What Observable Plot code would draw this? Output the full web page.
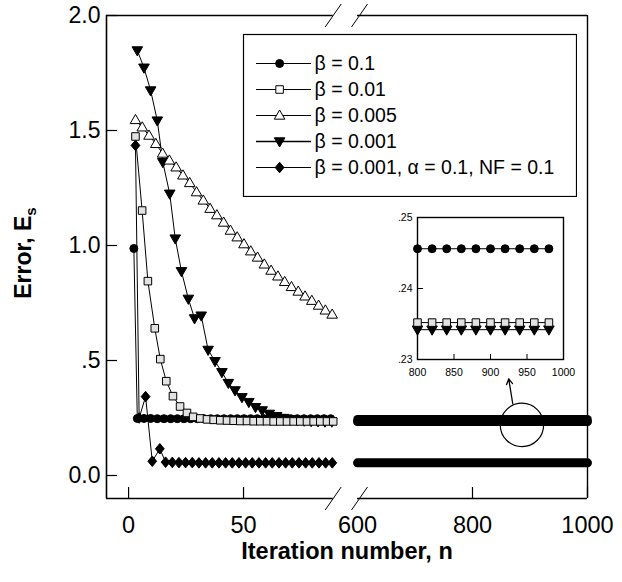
<!DOCTYPE html>
<html><head><meta charset="utf-8">
<script src="https://cdn.jsdelivr.net/npm/d3@7"></script>
<script src="https://cdn.jsdelivr.net/npm/@observablehq/plot@0.6"></script>
<style>
body{margin:0;background:#fff;}
#wrap{position:relative;width:622px;height:582px;font-family:"Liberation Sans",Arial,sans-serif;}
#wrap > svg{position:absolute;}
</style></head><body><div id="wrap"></div>
<script>
// ---------- data ----------
const seriesLabels = ["β = 0.1", "β = 0.01", "β = 0.005", "β = 0.001", "β = 0.001, α = 0.1, NF = 0.1"];

// β = 0.1 (filled circles)
const nB01 = [2.3, 3.8, 6.7, 9.6, 12.5, 15.4, 18.3, 21.2, 24.1, 27.0, 29.9, 32.8, 35.7, 38.6, 41.5, 44.4, 47.3, 50.2, 53.1, 56.0, 58.9, 61.8, 64.7, 67.6, 70.5, 73.4, 76.3, 79.2, 82.1, 85.0, 87.9];
const eB01 = [0.987, 0.248, 0.248, 0.248, 0.247, 0.247, 0.247, 0.247, 0.247, 0.247, 0.247, 0.247, 0.247, 0.247, 0.247, 0.247, 0.247, 0.247, 0.247, 0.247, 0.247, 0.247, 0.247, 0.247, 0.247, 0.247, 0.247, 0.247, 0.247, 0.247, 0.247];

// β = 0.01 (open squares)
const nB001 = [3.0, 5.9, 8.4, 11.4, 13.8, 16.4, 19.3, 22.4, 25.4, 28.1, 31.2, 34.1, 37.0, 39.9, 42.8, 45.7, 48.6, 51.5, 54.4, 57.3, 60.2, 63.1, 66.0, 68.9, 71.8, 74.7, 77.6, 80.5, 83.4, 86.3, 89.0];
const eB001 = [1.474, 1.152, 0.845, 0.64, 0.506, 0.41, 0.345, 0.30, 0.272, 0.255, 0.248, 0.244, 0.242, 0.240, 0.239, 0.238, 0.237, 0.237, 0.236, 0.236, 0.236, 0.235, 0.235, 0.235, 0.235, 0.235, 0.235, 0.235, 0.235, 0.235, 0.235];

// β = 0.005 (open triangles)
const nB0005 = [3.0, 5.95, 8.9, 11.85, 14.8, 17.75, 20.7, 23.65, 26.6, 29.55, 32.5, 35.45, 38.4, 41.35, 44.3, 47.25, 50.2, 53.15, 56.1, 59.05, 62.0, 64.95, 67.9, 70.85, 73.8, 76.75, 79.7, 82.65, 85.6, 88.55];
const eB0005 = [1.546, 1.514, 1.478, 1.442, 1.40, 1.37, 1.34, 1.305, 1.272, 1.232, 1.196, 1.16, 1.132, 1.10, 1.065, 1.036, 1.006, 0.975, 0.948, 0.918, 0.891, 0.866, 0.842, 0.82, 0.80, 0.779, 0.76, 0.739, 0.718, 0.70];

// β = 0.001 (filled down-triangles)
const nB0001 = [3.8, 6.7, 9.6, 12.5, 14.9, 17.9, 20.3, 23.0, 26.0, 28.7, 31.6, 34.6, 37.6, 40.6, 43.4, 46.3, 49.3, 52.3, 55.2, 58.1, 61.2, 64.4, 67.4, 70.4, 73.4, 76.4, 79.4, 82.4, 85.4, 88.4];
const eB0001 = [1.848, 1.773, 1.674, 1.543, 1.362, 1.225, 1.03, 0.888, 0.768, 0.683, 0.695, 0.546, 0.497, 0.449, 0.402, 0.37, 0.34, 0.319, 0.297, 0.283, 0.268, 0.258, 0.250, 0.245, 0.241, 0.238, 0.236, 0.235, 0.234, 0.234];

// β = 0.001, α = 0.1, NF = 0.1 (filled diamonds)
const nAlpha = [3.0, 4.6, 7.4, 10.3, 13.6, 16.1, 19.0, 21.9, 24.8, 27.7, 30.6, 33.5, 36.4, 39.3, 42.2, 45.1, 48.0, 50.9, 53.8, 56.7, 59.6, 62.5, 65.4, 68.3, 71.2, 74.1, 77.0, 79.9, 82.8, 85.7, 88.6];
const eAlpha = [1.435, 0.25, 0.343, 0.062, 0.116, 0.058, 0.057, 0.056, 0.056, 0.056, 0.055, 0.055, 0.055, 0.055, 0.055, 0.055, 0.055, 0.055, 0.055, 0.055, 0.055, 0.055, 0.055, 0.055, 0.055, 0.055, 0.055, 0.055, 0.055, 0.055, 0.055];

// right-hand segment (n = 600 … 1000): converged levels, drawn as dense bands
const nRight = [600, 1000];
const eRightB01 = [0.245, 0.245];
const eRightB001 = [0.235, 0.235];
const eRightB0001 = [0.234, 0.234];
const eRightAlpha = [0.055, 0.055];

// inset (n = 800 … 980)
const nInset = [800, 820, 840, 860, 880, 900, 920, 940, 960, 980];
const eInsetB01 = [0.2456, 0.2456, 0.2456, 0.2456, 0.2456, 0.2456, 0.2456, 0.2456, 0.2456, 0.2456];
const eInsetB001 = [0.2352, 0.2352, 0.2352, 0.2352, 0.2352, 0.2352, 0.2352, 0.2352, 0.2352, 0.2352];
const eInsetB0001 = [0.2342, 0.2342, 0.2342, 0.2342, 0.2342, 0.2342, 0.2342, 0.2342, 0.2342, 0.2342];

// axes
const xTicks = [0, 50, 600, 800, 1000];
const yTicks = [0, 0.5, 1.0, 1.5, 2.0];
const yTickLabels = ["0.0", ".5", "1.0", "1.5", "2.0"];
const insetXTicks = [800, 850, 900, 950, 1000];
const insetYTicks = [0.23, 0.24, 0.25];
const insetYTickLabels = [".23", ".24", ".25"];
const zoomCircle = [{n: 886, E: 0.22}];
const zoomArrow = [{n1: 870, E1: 0.312, n2: 863, E2: 0.42}];

// ---------- helpers ----------
const zipS = (n, e) => n.map((d, i) => ({n: d, E: e[i]}));
const rr = s => Math.sqrt(s / Math.PI);
const symDown = {draw(c, s) { const r = rr(s); c.moveTo(-r * 1.15, -r * 0.8); c.lineTo(r * 1.15, -r * 0.8); c.lineTo(0, r * 1.2); c.closePath(); }};
const symUp = {draw(c, s) { const r = rr(s); c.moveTo(0, -r * 1.2); c.lineTo(r * 1.15, r * 0.8); c.lineTo(-r * 1.15, r * 0.8); c.closePath(); }};
const symDiamond = {draw(c, s) { const r = rr(s); c.moveTo(0, -r * 1.2); c.lineTo(r * 1.0, 0); c.lineTo(0, r * 1.2); c.lineTo(-r * 1.0, 0); c.closePath(); }};
const symSquare = {draw(c, s) { const r = rr(s) * 0.9; c.rect(-r, -r, 2 * r, 2 * r); }};
const symSlash = {draw(c) { c.moveTo(-8, 11.5); c.lineTo(8, -11.5); }};

const styles = [
  {symbol: "circle", fill: "black", r: 4},
  {symbol: symSquare, fill: "#e2e2e2", r: 4.2},
  {symbol: symUp, fill: "white", r: 4.6},
  {symbol: symDown, fill: "black", r: 4.6},
  {symbol: symDiamond, fill: "black", r: 4.4}
];
const dotOpts = (st) => ({x: "n", y: "E", symbol: st.symbol, fill: st.fill, stroke: "black", strokeWidth: 1, r: st.r});
const lineOpts = {x: "n", y: "E", stroke: "black", strokeWidth: 1};

const sB01 = zipS(nB01, eB01), sB001 = zipS(nB001, eB001), sB0005 = zipS(nB0005, eB0005),
      sB0001 = zipS(nB0001, eB0001), sAlpha = zipS(nAlpha, eAlpha);

const FONT = "'Liberation Sans', Arial, sans-serif";
const xDom = [-9.6, 90, 600, 1000];

// ---------- main plot ----------
const main = Plot.plot({
  width: 622, height: 582,
  marginLeft: 106, marginRight: 35, marginTop: 15, marginBottom: 84,
  x: {type: "linear", domain: xDom, range: [106, 335, 357, 587]},
  y: {domain: [-0.1, 2.0]},
  style: {fontFamily: FONT, fontSize: "23px", color: "black", background: "white", overflow: "visible"},
  marks: [
    Plot.axisX({ticks: xTicks, tickSize: 0, tickPadding: 18, label: null, fontSize: 23.5, tickFormat: d => String(d)}),
    Plot.axisY({ticks: yTicks, tickSize: 0, tickPadding: 6, label: null, fontSize: 23,
                tickFormat: d => yTickLabels[yTicks.indexOf(d)]}),
    Plot.tickY(yTicks, {y: d => d, insetRight: 481 - 11, stroke: "black", strokeWidth: 1.2}),
    Plot.tickX(xTicks.filter(d => d !== 600), {x: d => d, insetTop: 483 - 11, stroke: "black", strokeWidth: 1.2}),
    // frame with axis breaks
    Plot.ruleX([xDom[0]], {y1: -0.1, y2: 2.0, stroke: "black", strokeWidth: 1.6}),
    Plot.ruleX([1000], {y1: -0.1, y2: 2.0, stroke: "black", strokeWidth: 1.4}),
    Plot.ruleY([-0.1, 2.0], {x1: xDom[0], x2: 89, stroke: "black", strokeWidth: 1.6}),
    Plot.ruleY([-0.1, 2.0], {x1: 600, x2: 1000, stroke: "black", strokeWidth: 1.6}),
    Plot.dot([{n: 89, E: -0.1}, {n: 89, E: 2.0}], {x: "n", y: "E", symbol: symSlash, stroke: "black", strokeWidth: 1, fill: "none", dx: 0}),
    Plot.dot([{n: 600, E: -0.1}, {n: 600, E: 2.0}], {x: "n", y: "E", symbol: symSlash, stroke: "black", strokeWidth: 1, fill: "none", dx: 2}),
    // right-hand dense bands
    Plot.line(zipS(nRight, eRightB001), {...lineOpts, strokeWidth: 8.5, strokeLinecap: "round"}),
    Plot.line(zipS(nRight, eRightB0001), {...lineOpts, strokeWidth: 8.5, strokeLinecap: "round"}),
    Plot.line(zipS(nRight, eRightB01), {...lineOpts, strokeWidth: 8.5, strokeLinecap: "round"}),
    Plot.line(zipS(nRight, eRightAlpha), {...lineOpts, strokeWidth: 9, strokeLinecap: "round"}),
    // left-hand series
    Plot.line(sB0005, lineOpts),
    Plot.line(sB0001, lineOpts),
    Plot.line(sB001, lineOpts),
    Plot.line(sB01, lineOpts),
    Plot.line(sAlpha, lineOpts),
    Plot.dot(sB01, dotOpts(styles[0])),
    Plot.dot(sAlpha, dotOpts(styles[4])),
    Plot.dot(sB0001, dotOpts(styles[3])),
    Plot.dot(sB001, dotOpts(styles[1])),
    Plot.dot(sB0005, dotOpts(styles[2])),
    // zoom annotation
    Plot.dot(zoomCircle, {x: "n", y: "E", r: 21.7, fill: "none", stroke: "black", strokeWidth: 1.2}),
    Plot.arrow(zoomArrow, {x1: "n1", y1: "E1", x2: "n2", y2: "E2", stroke: "black", strokeWidth: 1.3, headLength: 7})
  ]
});
main.style.left = "0px"; main.style.top = "0px";
const svg = d3.select(main);
svg.append("text").attr("x", 347).attr("y", 559).attr("text-anchor", "middle")
  .attr("font-family", FONT).attr("font-weight", "bold").attr("font-size", 23.5).attr("fill", "black")
  .text("Iteration number, n");
const yt = svg.append("text").attr("transform", "translate(31,253) rotate(-90)").attr("text-anchor", "middle")
  .attr("font-family", FONT).attr("font-weight", "bold").attr("font-size", 23).attr("fill", "black");
yt.append("tspan").text("Error, E");
yt.append("tspan").attr("font-size", 15).attr("dy", "0.35em").text("s");
document.getElementById("wrap").appendChild(main);

// ---------- legend ----------
const legend = Plot.plot({
  width: 335, height: 164, margin: 1,
  x: {domain: [0, 1], range: [14, 69], axis: null},
  y: {type: "point", domain: seriesLabels, range: [29, 135], padding: 0, axis: null},
  style: {fontFamily: FONT, fontSize: "19.5px", color: "black", background: "white"},
  marks: [
    Plot.frame({stroke: "black", strokeWidth: 1.2}),
    Plot.ruleY(seriesLabels, {y: d => d, x1: 0, x2: 1, stroke: "black", strokeWidth: (d, i) => i === 3 ? 1.6 : 1}),
    ...seriesLabels.map((lab, i) => Plot.dot([lab], {y: d => d, x: 0.42, symbol: styles[i].symbol,
      fill: i === 1 ? "white" : styles[i].fill, stroke: "black", strokeWidth: 1, r: styles[i].r})),
    Plot.text(seriesLabels, {y: d => d, x: 1, dx: 3, text: d => d, textAnchor: "start", fontSize: 19.5, fill: "black"})
  ]
});
legend.style.left = "242px"; legend.style.top = "33px";
document.getElementById("wrap").appendChild(legend);

// ---------- inset ----------
const inset = Plot.plot({
  width: 205, height: 185, marginLeft: 47, marginRight: 12, marginTop: 17, marginBottom: 26,
  x: {domain: [800, 1000]},
  y: {domain: [0.23, 0.25]},
  style: {fontFamily: FONT, fontSize: "10px", color: "black", background: "transparent", overflow: "visible"},
  marks: [
    Plot.frame({stroke: "black", strokeWidth: 1.4}),
    Plot.axisX({ticks: insetXTicks, tickSize: 0, tickPadding: 9, label: null, fontSize: 10.5, tickFormat: d => String(d)}),
    Plot.axisY({ticks: insetYTicks, tickSize: 0, tickPadding: 5, label: null, fontSize: 10.5,
                tickFormat: d => insetYTickLabels[insetYTicks.indexOf(d)]}),
    Plot.tickY(insetYTicks, {y: d => d, insetRight: 146 - 6, stroke: "black"}),
    Plot.tickX(insetXTicks, {x: d => d, insetTop: 142 - 5, stroke: "black"}),
    Plot.line(zipS(nInset, eInsetB0001), lineOpts),
    Plot.line(zipS(nInset, eInsetB001), lineOpts),
    Plot.line(zipS(nInset, eInsetB01), lineOpts),
    Plot.dot(zipS(nInset, eInsetB0001), dotOpts(styles[3])),
    Plot.dot(zipS(nInset, eInsetB001), dotOpts(styles[1])),
    Plot.dot(zipS(nInset, eInsetB01), dotOpts(styles[0]))
  ]
});
inset.style.left = "370px"; inset.style.top = "200px";
document.getElementById("wrap").appendChild(inset);
</script>
</body></html>
